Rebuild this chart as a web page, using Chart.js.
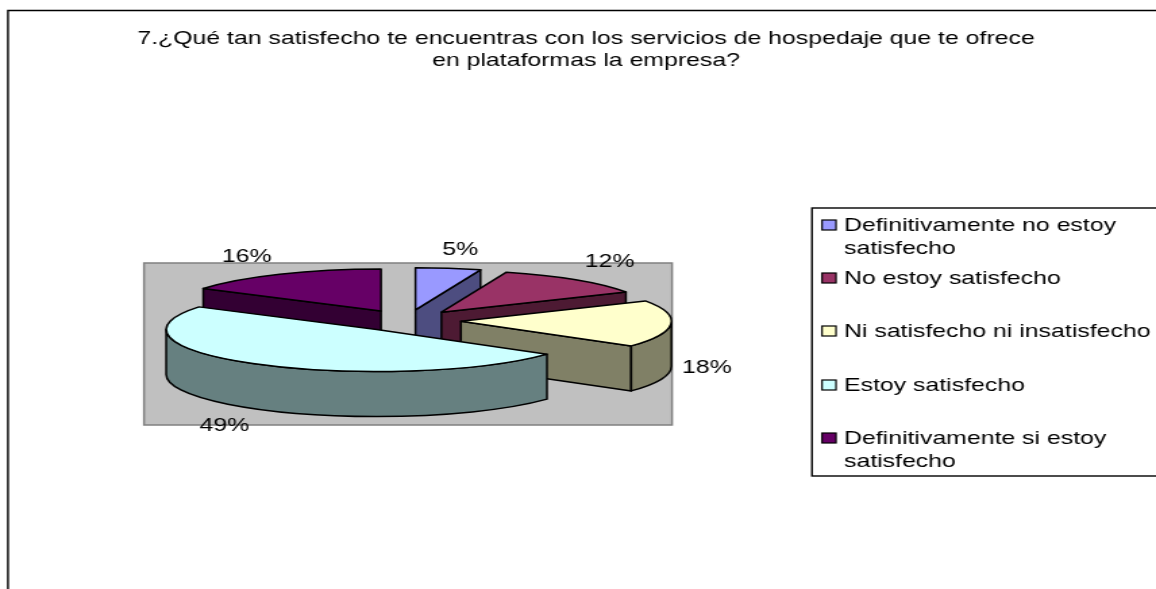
<!DOCTYPE html>
<html><head><meta charset="utf-8">
<script src="https://cdn.jsdelivr.net/npm/chart.js@4"></script>
<style>
html,body{margin:0;padding:0;background:#fff;overflow:hidden}
canvas{display:block;width:1156px !important;height:589px !important}
</style></head><body><canvas id="c" width="856" height="589"></canvas>
<script>
const categories=['Definitivamente no estoy satisfecho','No estoy satisfecho','Ni satisfecho ni insatisfecho','Estoy satisfecho','Definitivamente si estoy satisfecho'];
const values=[5,12,18,49,16];
const titleLines=['7.¿Qué tan satisfecho te encuentras con los servicios de hospedaje que te ofrece','en plataformas la empresa?'];
const topColors=['#9999FF','#993366','#FFFFCC','#CCFFFF','#660066'];
const wallColors=['#4D4D80','#4D1A33','#808066','#668080','#330033'];
const legendLines=[['Definitivamente no estoy','satisfecho'],['No estoy satisfecho'],['Ni satisfecho ni insatisfecho'],['Estoy satisfecho'],['Definitivamente si estoy','satisfecho']];
const legendRowY=[225,278,331,385,438];
const labelNudge=[[12,-18],[34,-18],[36,44],[-34,62],[-33,-17]];

const W=856, S=1156/W;
const CX=407/S, CY=320.5, R=210.5/S, K=0.27, DEPTH=45, EXPLODE=54/S;
const FONT='"Liberation Sans", Arial, sans-serif';
const FONT_SIZE=18.4;
const total=values.reduce((a,b)=>a+b,0);

function apex(el){
  const half=(el.startAngle+el.endAngle)/2;
  return {x:CX+Math.cos(half)*EXPLODE, y:CY+Math.sin(half)*EXPLODE*K};
}
const solidPie={
  id:'solidPie',
  beforeDraw(chart){
    const ctx=chart.ctx; ctx.save();
    ctx.fillStyle='#fff'; ctx.fillRect(0,0,W,589);
    ctx.strokeStyle='#000'; ctx.lineWidth=1.4;
    ctx.beginPath(); ctx.moveTo(8/S,600); ctx.lineTo(8/S,10.5); ctx.lineTo(W+5,10.5); ctx.stroke();
    ctx.fillStyle='#C0C0C0'; ctx.strokeStyle='#808080'; ctx.lineWidth=1.5;
    ctx.fillRect(144/S,263,528/S,162); ctx.strokeRect(144/S,263,528/S,162);
    ctx.restore();
  },
  beforeDatasetDraw(chart){
    const ctx=chart.ctx, arcs=chart.getDatasetMeta(0).data;
    const order=arcs.map((el,i)=>({el,i,p:apex(el)})).sort((a,b)=>a.p.y-b.p.y);
    ctx.save();
    ctx.strokeStyle='#000'; ctx.lineWidth=1.5; ctx.lineJoin='round';
    for(const {el,i,p} of order){
      ctx.fillStyle=wallColors[i];
      const face=a=>{
        const qx=p.x+Math.cos(a)*R, qy=p.y+Math.sin(a)*R*K;
        ctx.beginPath(); ctx.moveTo(p.x,p.y); ctx.lineTo(qx,qy); ctx.lineTo(qx,qy+DEPTH); ctx.lineTo(p.x,p.y+DEPTH); ctx.closePath();
        ctx.fill(); ctx.stroke();
      };
      if(Math.cos(el.endAngle)>1e-6) face(el.endAngle);
      if(Math.cos(el.startAngle)<-1e-6) face(el.startAngle);
      const a0=Math.max(el.startAngle,0), a1=Math.min(el.endAngle,Math.PI);
      if(a1>a0){
        ctx.beginPath();
        ctx.ellipse(p.x,p.y,R,R*K,0,a0,a1);
        ctx.ellipse(p.x,p.y+DEPTH,R,R*K,0,a1,a0,true);
        ctx.closePath(); ctx.fill(); ctx.stroke();
      }
    }
    ctx.restore();
    // the library's own arc elements paint the top faces, squashed and pulled apart
    arcs.forEach(el=>{
      const p=apex(el);
      ctx.save();
      ctx.translate(p.x,p.y); ctx.scale(1,K); ctx.translate(-el.x,-el.y);
      el.draw(ctx);
      ctx.restore();
    });
    ctx.save();
    ctx.strokeStyle='#000'; ctx.lineWidth=1.5; ctx.lineJoin='round';
    arcs.forEach(el=>{
      const p=apex(el);
      ctx.beginPath(); ctx.moveTo(p.x,p.y);
      ctx.ellipse(p.x,p.y,R,R*K,0,el.startAngle,el.endAngle);
      ctx.closePath(); ctx.stroke();
    });
    ctx.restore();
    return false;
  },
  afterDatasetsDraw(chart){
    const ctx=chart.ctx, arcs=chart.getDatasetMeta(0).data;
    ctx.save();
    ctx.fillStyle='#000'; ctx.font=FONT_SIZE+'px '+FONT; ctx.textAlign='center'; ctx.textBaseline='middle';
    arcs.forEach((el,i)=>{
      const p=apex(el), h=(el.startAngle+el.endAngle)/2;
      const x=p.x+Math.cos(h)*R+labelNudge[i][0]/S, y=p.y+Math.sin(h)*R*K+labelNudge[i][1];
      ctx.fillText(Math.round(values[i]/total*100)+'%',x,y);
    });
    ctx.strokeStyle='#000'; ctx.lineWidth=1.4;
    ctx.strokeRect(812/S,208,W,268);
    ctx.textAlign='left';
    legendLines.forEach((lines,i)=>{
      const y=legendRowY[i];
      ctx.fillStyle=topColors[i]; ctx.lineWidth=1.2;
      ctx.fillRect(822/S,y-5,14/S,10); ctx.strokeRect(822/S,y-5,14/S,10);
      ctx.fillStyle='#000';
      lines.forEach((t,j)=>ctx.fillText(t,844/S,y+1+j*23));
    });
    ctx.restore();
  }
};
new Chart(document.getElementById('c'),{
  type:'pie',
  data:{labels:categories,datasets:[{
    data:values,backgroundColor:topColors,borderWidth:0,clip:false,radius:R
  }]},
  options:{
    responsive:false,animation:false,devicePixelRatio:1,
    layout:{padding:{left:16/S,right:0,top:0,bottom:0}},
    plugins:{
      legend:{display:false},tooltip:{enabled:false},
      title:{display:true,text:titleLines,color:'#000',
        font:{family:FONT,size:FONT_SIZE,weight:'normal',lineHeight:1.2},
        padding:{top:28,bottom:10}}
    }
  },
  plugins:[solidPie]
});
</script></body></html>
